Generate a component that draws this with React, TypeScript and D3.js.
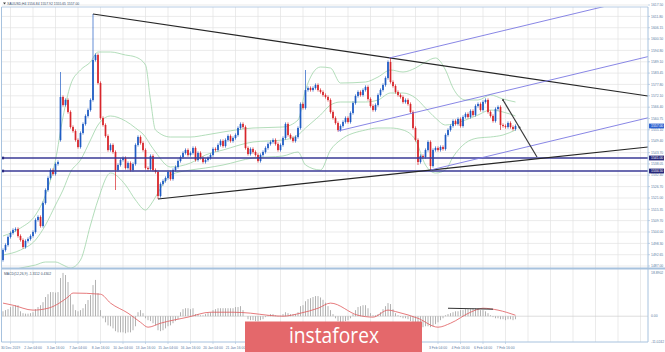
import React, { useEffect, useRef } from 'react';
import * as d3 from 'd3';

const W = 665;
const H = 352;

// XAUUSD H4 closes (one per candle)
const closes = [
  1495.0, 1497.5, 1501.5, 1503.5, 1505.0, 1505.5, 1502.0, 1500.0, 1496.5, 1499.5,
  1500.5, 1502.0, 1504.0, 1510.0, 1511.5, 1507.0, 1518.5, 1525.0, 1531.0, 1535.0,
  1533.0, 1538.0, 1539.0, 1571.5, 1567.5, 1570.0, 1564.0, 1556.5, 1554.5, 1550.0,
  1546.5, 1553.5, 1558.0, 1562.0, 1565.0, 1570.0, 1590.0, 1592.5, 1578.5, 1561.0,
  1557.5, 1552.0, 1545.0, 1547.5, 1544.0, 1535.0, 1537.5, 1540.0, 1541.0, 1536.0,
  1538.5, 1535.0, 1538.0, 1547.5, 1551.5, 1548.5, 1545.0, 1536.0, 1535.5, 1542.0,
  1535.0, 1534.0, 1522.0, 1528.0, 1529.5, 1531.0, 1534.0, 1530.5, 1535.0, 1536.5,
  1539.5, 1541.5, 1543.5, 1545.0, 1542.5, 1543.5, 1546.0, 1540.0, 1543.5, 1541.0,
  1539.0, 1540.0, 1541.0, 1542.5, 1545.5, 1545.0, 1547.5, 1549.5, 1547.0, 1550.0,
  1552.0, 1549.5, 1551.0, 1552.5, 1556.0, 1558.0, 1556.5, 1546.0, 1543.0, 1545.5,
  1544.0, 1542.5, 1539.5, 1542.5, 1544.0, 1546.0, 1548.0, 1549.0, 1550.0, 1548.0,
  1545.0, 1547.5, 1551.0, 1558.0, 1552.5, 1551.0, 1549.5, 1551.5, 1556.0, 1568.0,
  1566.0, 1575.0, 1576.0, 1575.0, 1576.0, 1577.5, 1575.0, 1574.0, 1572.5, 1571.5,
  1570.0, 1564.0, 1561.0, 1558.5, 1555.0, 1557.0, 1559.0, 1561.0, 1559.0, 1563.5,
  1568.5, 1572.0, 1574.0, 1572.5, 1575.0, 1576.5, 1570.5, 1567.0, 1565.0, 1567.5,
  1572.5, 1575.0, 1577.5, 1581.0, 1589.0, 1579.0, 1577.0, 1574.0, 1572.5, 1571.5,
  1569.0, 1570.0, 1568.0, 1564.0, 1556.0, 1550.0, 1539.0, 1542.0, 1541.5, 1545.0,
  1549.0, 1537.0, 1545.0, 1546.0, 1545.0, 1546.5, 1545.5, 1552.5, 1555.0, 1557.0,
  1559.5, 1558.0, 1560.5, 1557.0, 1561.5, 1563.0, 1561.5, 1564.5, 1562.5, 1567.0,
  1568.0, 1565.0, 1569.0, 1570.0, 1564.0, 1562.0, 1559.5, 1565.5, 1566.5, 1557.5,
  1557.0, 1556.5, 1558.5, 1556.5, 1555.5, 1557.0,
];
// opens that differ from the previous close (first candle, weekend gap)
const openOverrides: { [i: number]: number } = { 0: 1490.0, 23: 1550.0 };
// long wicks
const highOverrides: { [i: number]: number } = { 23: 1584.0, 36: 1613.0, 121: 1585.0, 155: 1591.5 };
const lowOverrides: { [i: number]: number } = { 45: 1525.0, 62: 1520.5, 166: 1537.5, 171: 1535.0, 199: 1555.0 };

// Bollinger bands, sampled along the candles
const bbIdx = [0, 7, 13, 17, 21, 24, 27, 31, 35, 38, 43, 49, 53, 57, 59, 61, 67, 75, 81, 88, 100, 112, 118, 121, 127, 131, 135, 145, 150, 155, 160, 165, 169, 173, 177, 180, 185, 190, 195, 200, 205];
const bbUpper = [1502, 1506, 1512.5, 1522.5, 1540, 1561.5, 1577.5, 1585, 1589, 1594, 1594, 1592.5, 1591.5, 1587.5, 1570, 1555, 1551.5, 1551.5, 1552.5, 1554, 1556, 1556.5, 1560, 1575, 1586.5, 1586, 1578.5, 1579, 1581.5, 1585, 1584, 1586, 1589, 1591, 1585, 1576, 1570, 1570, 1572.5, 1570.5, 1569];
const bbMiddle = [1492.5, 1495, 1500, 1507.5, 1517.5, 1525, 1534, 1540, 1550, 1557.5, 1562, 1559.5, 1556, 1551.5, 1547.5, 1544, 1536.5, 1538.5, 1542.5, 1545, 1549, 1550, 1552.5, 1556, 1562.5, 1567.5, 1569, 1569, 1570, 1573.5, 1573.5, 1571, 1566, 1561, 1557.5, 1558, 1560, 1562.5, 1565, 1564, 1562];
const bbLower = [1484, 1486, 1487.5, 1489, 1489, 1487.5, 1486, 1490, 1507.5, 1520, 1533.5, 1527.5, 1520, 1515, 1517.5, 1521.5, 1532.5, 1535, 1536, 1537.5, 1541, 1542, 1544, 1537.5, 1535, 1545, 1550, 1555, 1556, 1556, 1555, 1550, 1537.5, 1533.5, 1535, 1541.5, 1548.5, 1551, 1551.5, 1552.5, 1555];

// MACD(12,26,9) main histogram, one per candle
const macdHist = [
  2.1, 2.6, 3.0, 3.9, 4.3, 4.7, 4.7, 2.1, 1.3, 1.1,
  1.1, 1.3, 1.7, 3.0, 3.9, 4.7, 6.0, 8.2, 9.4, 10.3,
  10.3, 10.1, 10.3, 16.3, 18.5, 17.6, 14.6, 9.0, 5.0, 2.6,
  2.1, 2.6, 3.4, 5.2, 6.9, 9.0, 13.3, 15.5, 9.9, 2.6,
  -0.9, -2.6, -3.9, -4.3, -5.2, -6.4, -6.9, -6.9, -6.9, -7.3,
  -6.9, -6.9, -6.0, -4.3, 1.7, 2.6, 1.3, -0.9, -1.7, -2.1,
  -3.0, -3.9, -6.0, -6.4, -6.0, -5.2, -4.3, -3.9, -3.0, -2.1,
  -1.3, 1.7, 3.0, 3.4, 3.4, 3.0, 3.4, 0.9, 0.9, 0.4,
  0.4, 0.9, 1.3, 1.7, 2.6, 3.0, 3.4, 3.4, 3.4, 3.4,
  3.4, 3.4, 3.4, 3.9, 3.9, 4.3, 2.6, 0.0, -1.3, -1.7,
  -1.7, -2.1, -2.1, -1.7, -1.3, -0.4, 0.4, 0.9, 0.9, 0.4,
  -0.2, 0.2, 0.9, 1.7, 1.3, 0.9, 0.9, 0.9, 1.7, 4.3,
  4.7, 6.4, 7.3, 7.7, 8.2, 8.6, 8.6, 8.0, 7.0, 5.8,
  4.3, 2.6, 0.9, -0.9, -2.1, -2.6, -2.6, -2.1, -1.7, -0.9,
  0.9, 2.6, 3.9, 4.3, 4.7, 4.7, 3.4, 1.3, 0.4, 0.4,
  0.9, 1.7, 3.0, 4.3, 5.6, 5.2, 3.0, 1.3, 0.4, -0.4,
  -0.9, -0.9, -1.3, -2.1, -3.0, -3.9, -4.7, -4.7, -4.7, -4.3,
  -4.3, -4.7, -4.3, -3.4, -2.6, -1.7, -0.9, 0.4, 0.9, 1.3,
  1.7, 2.1, 2.1, 2.6, 2.6, 3.0, 3.0, 3.0, 3.4, 3.4,
  3.4, 2.6, 2.6, 2.1, 1.3, 0.4, -0.4, -0.9, -0.9, -1.3,
  -1.3, -1.7, -1.3, -1.3, -1.7, -1.3,
];
const sigIdx = [0, 4, 12, 18, 26, 28, 39, 43, 50, 55, 58, 63, 74, 83, 92, 99, 106, 112, 119, 126, 131, 142, 148, 154, 158, 166, 174, 179, 187, 192, 198, 205];
const sigVal = [5.6, 4.7, 2.6, 3.4, 8.2, 9.9, 9.4, 5.6, 1.3, -2.6, -4.7, -3.0, -0.4, 1.7, 1.7, 1.3, 0.4, 0.0, 1.3, 3.4, 5.6, 0.4, -0.4, 2.6, 1.7, -0.9, -4.7, -3.0, 1.7, 3.4, 2.6, 0.4];
const macdMax = 18.8902;
const macdMin = -11.0242;

// price axis labels
const priceTicks = [1617.5, 1611.8, 1606.15, 1600.5, 1594.8, 1589.1, 1583.45, 1577.8, 1572.1, 1566.4, 1560.75, 1555.1, 1549.4, 1543.7, 1538.05, 1532.4, 1526.7, 1521.0, 1515.35, 1509.7, 1504.0, 1498.3, 1492.65, 1487.0];
const lastPrice = 1557.0;
const levels = [1541.0, 1534.5];

// time axis labels (candle index, text); the ones under the logo are not visible
const timeIdx = [3, 12, 21, 30, 39, 48, 57, 66, 75, 84, 93, 174, 183, 192, 201];
const timeText = ['30 Dec 2019', '2 Jan 04:00', '3 Jan 16:00', '7 Jan 04:00', '8 Jan 16:00', '10 Jan 04:00', '13 Jan 16:00', '15 Jan 04:00', '16 Jan 16:00', '20 Jan 04:00', '21 Jan 16:00', '3 Feb 04:00', '4 Feb 16:00', '6 Feb 04:00', '7 Feb 16:00'];

// drawn objects: [index1, price1, index2, price2]
const blackLines = [
  [36, 1613.0, 258, 1572.0],
  [62, 1520.5, 258, 1546.5],
];
const forkLines = [
  [154.5, 1591.0, 258, 1622.0],
  [134, 1554.5, 258, 1591.7],
  [171, 1535.0, 258, 1561.1],
];
const arrowLine = [200, 1570.0, 213.6, 1541.5];
const macdSegment = [178, 3.4, 196, 3.0];

const App: React.FC = () => {
  const svgRef = useRef<SVGSVGElement | null>(null);

  useEffect(() => {
    const svg = d3.select(svgRef.current);
    svg.selectAll('*').remove();

    const font = 'Liberation Sans, Arial, sans-serif';
    const axisCol = '#5b7ba3';
    const upCol = '#1f5cc4';
    const downCol = '#d8262b';

    const x = d3.scaleLinear().domain([0, closes.length - 1]).range([3, 515.5]);
    const y = d3.scaleLinear().domain([1487, 1616.5]).range([266, 7]);
    const ym = d3.scaleLinear().domain([macdMin, macdMax]).range([342, 272]);

    svg.append('rect').attr('width', W).attr('height', H).attr('fill', '#fff');

    const defs = svg.append('defs');
    defs.append('clipPath').attr('id', 'mainClip')
      .append('rect').attr('x', 2).attr('y', 7).attr('width', 646).attr('height', 261);
    defs.append('clipPath').attr('id', 'macdClip')
      .append('rect').attr('x', 2).attr('y', 270).attr('width', 646).attr('height', 72);

    // grid
    const grid = svg.append('g');
    d3.range(3, 260, 9).forEach(i => {
      grid.append('line')
        .attr('x1', x(i)).attr('x2', x(i)).attr('y1', 7).attr('y2', 342)
        .attr('stroke', '#e3e3e3').attr('stroke-width', 0.7);
    });
    priceTicks.forEach(p => {
      grid.append('line')
        .attr('x1', 2).attr('x2', 648).attr('y1', y(p)).attr('y2', y(p))
        .attr('stroke', '#e3e3e3').attr('stroke-width', 0.7);
    });

    const main = svg.append('g').attr('clip-path', 'url(#mainClip)');

    // Bollinger bands
    const bbLine = (vals: number[]) => d3.line<number>()
      .x((d, k) => x(bbIdx[k]))
      .y(d => y(d))
      .curve(d3.curveMonotoneX)(vals);
    [bbUpper, bbMiddle, bbLower].forEach(vals => {
      main.append('path').attr('d', bbLine(vals))
        .attr('fill', 'none').attr('stroke', '#9fd4a8').attr('stroke-width', 0.8);
    });

    // candles
    const wickPad = 0.8;
    closes.forEach((c, i) => {
      const o = openOverrides[i] ?? closes[i - 1];
      const col = c >= o ? upCol : downCol;
      const top = Math.max(o, c);
      const bot = Math.min(o, c);
      const hi = highOverrides[i] ?? top + wickPad;
      const lo = lowOverrides[i] ?? bot - wickPad;
      main.append('line')
        .attr('x1', x(i)).attr('x2', x(i)).attr('y1', y(hi)).attr('y2', y(lo))
        .attr('stroke', col).attr('stroke-width', 0.7);
      main.append('rect')
        .attr('x', x(i) - 0.85).attr('width', 1.7)
        .attr('y', y(top)).attr('height', Math.max(0.7, y(bot) - y(top)))
        .attr('fill', col);
    });

    // horizontal levels
    levels.forEach(p => {
      main.append('line')
        .attr('x1', 2).attr('x2', 648).attr('y1', y(p)).attr('y2', y(p))
        .attr('stroke', '#3a3a96').attr('stroke-width', 1.3);
      svg.append('rect')
        .attr('x', 1.5).attr('y', y(p) - 1.3).attr('width', 2.6).attr('height', 2.6)
        .attr('fill', '#2a2a80');
    });

    // trend lines
    blackLines.forEach(([i1, p1, i2, p2]) => {
      main.append('line')
        .attr('x1', x(i1)).attr('y1', y(p1)).attr('x2', x(i2)).attr('y2', y(p2))
        .attr('stroke', '#262626').attr('stroke-width', 1.2);
    });
    forkLines.forEach(([i1, p1, i2, p2]) => {
      main.append('line')
        .attr('x1', x(i1)).attr('y1', y(p1)).attr('x2', x(i2)).attr('y2', y(p2))
        .attr('stroke', '#7a78e2').attr('stroke-width', 0.9);
    });
    {
      const [i1, p1, i2, p2] = arrowLine;
      main.append('line')
        .attr('x1', x(i1)).attr('y1', y(p1)).attr('x2', x(i2)).attr('y2', y(p2))
        .attr('stroke', '#3a3a3a').attr('stroke-width', 1.2);
      [[i1, p1], [(i1 + i2) / 2 - 0.2, (p1 + p2) / 2 + 0.5]].forEach(([ii, pp]) => {
        main.append('circle').attr('cx', x(ii)).attr('cy', y(pp)).attr('r', 1)
          .attr('fill', '#3a3a3a');
      });
    }

    // MACD panel
    const macd = svg.append('g').attr('clip-path', 'url(#macdClip)');
    macd.append('line')
      .attr('x1', 2).attr('x2', 648).attr('y1', ym(0)).attr('y2', ym(0))
      .attr('stroke', '#cfcfcf').attr('stroke-width', 0.7);
    macdHist.forEach((v, i) => {
      macd.append('line')
        .attr('x1', x(i)).attr('x2', x(i)).attr('y1', ym(0)).attr('y2', ym(v))
        .attr('stroke', '#a9a9a9').attr('stroke-width', 0.9);
    });
    const sigLine = d3.line<number>()
      .x((d, k) => x(sigIdx[k]))
      .y(d => ym(d))
      .curve(d3.curveMonotoneX);
    macd.append('path').attr('d', sigLine(sigVal))
      .attr('fill', 'none').attr('stroke', '#e0595c').attr('stroke-width', 0.8);
    {
      const [i1, v1, i2, v2] = macdSegment;
      macd.append('line')
        .attr('x1', x(i1)).attr('y1', ym(v1)).attr('x2', x(i2)).attr('y2', ym(v2))
        .attr('stroke', '#333').attr('stroke-width', 1);
    }

    // frames
    const frameCol = '#a7c2de';
    svg.append('line').attr('x1', 1.5).attr('x2', 1.5).attr('y1', 7).attr('y2', 342)
      .attr('stroke', frameCol).attr('stroke-width', 1);
    svg.append('line').attr('x1', 648).attr('x2', 648).attr('y1', 7).attr('y2', 342)
      .attr('stroke', frameCol).attr('stroke-width', 1);
    svg.append('line').attr('x1', 1.5).attr('x2', 648).attr('y1', 7).attr('y2', 7)
      .attr('stroke', frameCol).attr('stroke-width', 0.8);
    svg.append('line').attr('x1', 1.5).attr('x2', 665).attr('y1', 268.5).attr('y2', 268.5)
      .attr('stroke', frameCol).attr('stroke-width', 2);
    svg.append('line').attr('x1', 1.5).attr('x2', 648).attr('y1', 342).attr('y2', 342)
      .attr('stroke', frameCol).attr('stroke-width', 1);

    // price axis
    priceTicks.forEach(p => {
      svg.append('line').attr('x1', 648).attr('x2', 650).attr('y1', y(p)).attr('y2', y(p))
        .attr('stroke', frameCol).attr('stroke-width', 0.7);
      svg.append('text')
        .attr('x', 651).attr('y', y(p) + 1.2)
        .attr('font-family', font).attr('font-size', 3.4).attr('fill', axisCol)
        .text(p.toFixed(2));
    });
    const tag = (p: number, fill: string) => {
      svg.append('rect').attr('x', 649).attr('y', y(p) - 2.4).attr('width', 15).attr('height', 4.8)
        .attr('fill', fill);
      svg.append('text')
        .attr('x', 651).attr('y', y(p) + 1.2)
        .attr('font-family', font).attr('font-size', 3.4).attr('fill', '#fff')
        .text(p.toFixed(2));
    };
    tag(lastPrice, '#2f62cf');
    levels.forEach(p => tag(p, '#27277a'));

    // MACD axis
    [macdMax, 0, macdMin].forEach(v => {
      svg.append('text')
        .attr('x', 651).attr('y', ym(v) + (v === macdMax ? 2 : 1.2))
        .attr('font-family', font).attr('font-size', 3.4).attr('fill', axisCol)
        .text(v === 0 ? '0.00' : v.toFixed(4));
    });

    // time axis
    timeIdx.forEach((i, k) => {
      svg.append('line').attr('x1', x(i)).attr('x2', x(i)).attr('y1', 342).attr('y2', 344)
        .attr('stroke', frameCol).attr('stroke-width', 0.6);
      svg.append('text')
        .attr('x', x(i)).attr('y', 348.5).attr('text-anchor', 'middle')
        .attr('font-family', font).attr('font-size', 3.4).attr('fill', axisCol)
        .text(timeText[k]);
    });

    // captions
    svg.append('path').attr('d', 'M3,2.6 L6,2.6 L4.5,4.6 Z').attr('fill', '#444');
    svg.append('text')
      .attr('x', 7).attr('y', 4.6)
      .attr('font-family', font).attr('font-size', 3.4).attr('fill', '#3b4f6b')
      .text('XAUUSD,H4  1556.84 1557.92 1555.65 1557.00');
    svg.append('text')
      .attr('x', 4).attr('y', 275)
      .attr('font-family', font).attr('font-size', 3.4).attr('fill', '#3b4f6b')
      .text('MACD(12,26,9) -1.3112 0.4302');

    // logo
    svg.append('rect').attr('x', 245).attr('y', 321.5).attr('width', 177).attr('height', 31)
      .attr('fill', '#e4686b');
    svg.append('text')
      .attr('x', 334).attr('y', 343).attr('text-anchor', 'middle')
      .attr('font-family', 'Open Sans, sans-serif').attr('font-size', 21)
      .attr('textLength', 90).attr('lengthAdjust', 'spacingAndGlyphs')
      .attr('fill', '#fff')
      .text('instaforex');
  }, []);

  return (
    <svg
      ref={svgRef}
      width={W}
      height={H}
      style={{ position: 'absolute', left: 0, top: 0, display: 'block' }}
    />
  );
};

export default App;
